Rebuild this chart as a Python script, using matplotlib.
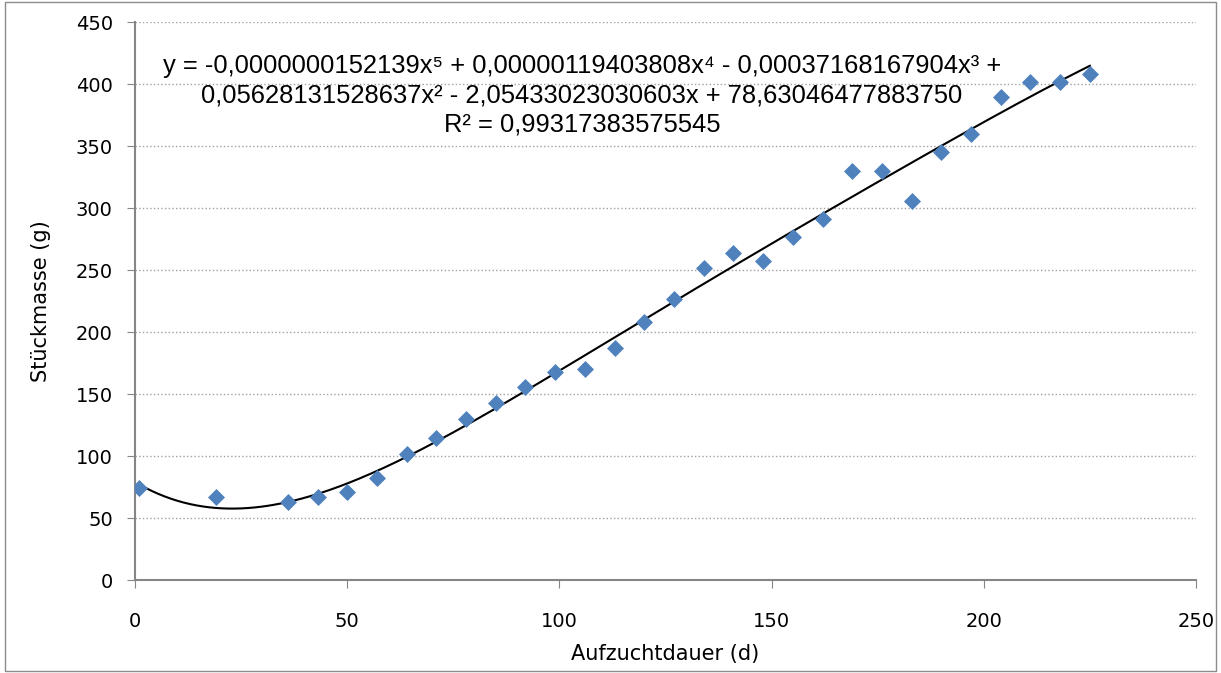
import matplotlib
matplotlib.use("Agg")
import matplotlib.pyplot as plt
from matplotlib.patches import Rectangle
import numpy as np

# Aufzuchtdauer (d) and Stückmasse (g)
days = [1, 19, 36, 43, 50, 57, 64, 71, 78, 85, 92, 99, 106, 113, 120,
        127, 134, 141, 148, 155, 162, 169, 176, 183, 190, 197, 204, 211, 218, 225]
mass = [74, 67, 63, 67, 71, 82, 102, 115, 130, 143, 156, 168, 170, 187, 208,
        227, 252, 264, 257, 277, 291, 330, 330, 306, 345, 360, 390, 402, 402, 408]

eq_text = ("y = -0,0000000152139x⁵ + 0,00000119403808x⁴ - 0,00037168167904x³ +\n"
           "0,05628131528637x² - 2,05433023030603x + 78,63046477883750\n"
           "R² = 0,99317383575545")

fig = plt.figure(figsize=(12.21, 6.73), dpi=100)
fig.patches.append(Rectangle((0.004, 0.003), 0.992, 0.994, transform=fig.transFigure,
                             fill=False, edgecolor="#8c8c8c", linewidth=1))
ax = fig.add_axes([0.1106, 0.138, 0.8689, 0.829])

# 5th order polynomial trendline fitted to the points
coef = np.polyfit(days, mass, 5)
xs = np.linspace(min(days), max(days), 300)
ax.plot(xs, np.polyval(coef, xs), color="black", linewidth=1.5, zorder=2)
ax.scatter(days, mass, marker="D", s=75, color="#4F81BD", zorder=3, linewidths=0)

ax.set_xlim(0, 250)
ax.set_ylim(0, 450)
ax.set_xticks(range(0, 251, 50))
ax.set_yticks(range(0, 451, 50))
ax.yaxis.grid(True, linestyle=":", color="#a0a0a0", linewidth=1)
ax.set_axisbelow(True)
for s in ["top", "right"]:
    ax.spines[s].set_visible(False)
for s in ["left", "bottom"]:
    ax.spines[s].set_color("#868686")
    ax.spines[s].set_linewidth(1.5)
ax.tick_params(direction="out", length=6, color="#868686", labelsize=14)
ax.tick_params(axis="x", pad=17)
ax.tick_params(axis="y", pad=10)

ax.set_xlabel("Aufzuchtdauer (d)", fontsize=15, labelpad=9)
ax.set_ylabel("Stückmasse (g)", fontsize=15, labelpad=18)

ax.text(105.3, 391, eq_text, ha="center", va="center", fontsize=18.4,
        family=["Liberation Sans", "DejaVu Sans"], linespacing=1.28)

fig.savefig("out.png", dpi=100)
